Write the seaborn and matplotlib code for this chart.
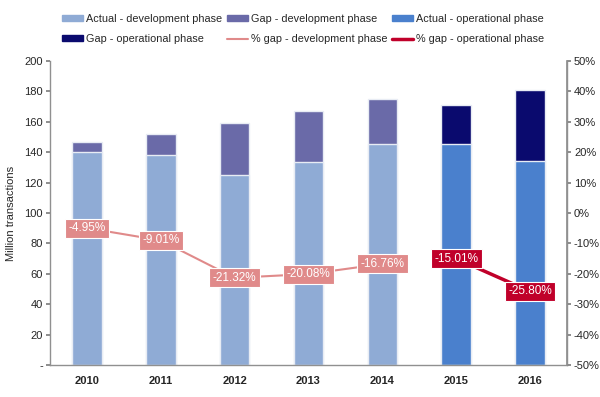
import numpy as np
import pandas as pd
import matplotlib
matplotlib.use("Agg")
import matplotlib.pyplot as plt
import seaborn as sns
from matplotlib.patches import Patch
from matplotlib.lines import Line2D

years = ["2010", "2011", "2012", "2013", "2014", "2015", "2016"]
phase = ["dev", "dev", "dev", "dev", "dev", "op", "op"]
actual = [140, 138, 125, 133.5, 145.5, 145.3, 134.3]
total = [147, 152, 159, 167, 175, 171, 181]
pct_gap = [-4.95, -9.01, -21.32, -20.08, -16.76, -15.01, -25.80]

sns.set_theme(style="white")
plt.rcParams["font.family"] = ["Liberation Sans", "DejaVu Sans"]

C_ACT_DEV = "#8FABD5"
C_GAP_DEV = "#6A6AA8"
C_ACT_OP = "#4A80CD"
C_GAP_OP = "#0A0A6E"
C_PCT_DEV = "#E08A8A"
C_PCT_OP = "#C0002A"

df = pd.DataFrame({"year": years, "phase": phase, "actual": actual,
                   "total": total, "pct": pct_gap})

fig = plt.figure(figsize=(6.0, 3.97), dpi=100)
ax = fig.add_axes([50/600, 1-365/397, 517/600, 304/397])

gap_cols = [C_GAP_DEV if p == "dev" else C_GAP_OP for p in phase]
act_cols = [C_ACT_DEV if p == "dev" else C_ACT_OP for p in phase]
sns.barplot(data=df, x="year", y="total", hue="year", palette=gap_cols,
            legend=False, width=0.4, ax=ax, saturation=1,
            edgecolor="#E8ECF4", linewidth=1.0)
sns.barplot(data=df, x="year", y="actual", hue="year", palette=act_cols,
            legend=False, width=0.4, ax=ax, saturation=1,
            edgecolor="#E8ECF4", linewidth=1.0)

ax.set_ylim(0, 200)
ax.set_xlim(-0.5, len(years) - 0.5)
ax.set_yticks(np.arange(0, 201, 20))
ax.set_yticklabels(["-"] + [str(v) for v in range(20, 201, 20)], fontsize=8)
ax.set_xlabel("")
ax.set_ylabel("Million transactions", fontsize=8, labelpad=6)
ax.set_xticks(np.arange(len(years)))
ax.set_xticklabels(years, fontsize=8, fontweight="bold")
ax.tick_params(axis="x", length=0, pad=8)
ax.set_xticks(np.arange(-0.5, len(years), 1), minor=True)
ax.tick_params(axis="x", which="minor", length=4, color="#808080", direction="out")
ax.tick_params(axis="y", length=3, color="#808080", direction="out", pad=2, left=True)
for s in ["left", "bottom", "right"]:
    ax.spines[s].set_color("#909090")
    ax.spines[s].set_linewidth(1)
ax.spines["top"].set_visible(False)

ax2 = ax.twinx()
xpos = np.arange(len(years))
dev = df["phase"] == "dev"
op = df["phase"] == "op"
sns.lineplot(x=xpos[dev.values], y=df.loc[dev, "pct"].values, ax=ax2,
             color=C_PCT_DEV, linewidth=1.5)
sns.lineplot(x=xpos[op.values], y=df.loc[op, "pct"].values, ax=ax2,
             color=C_PCT_OP, linewidth=2.5)
ax2.set_ylim(-50, 50)
ax2.set_yticks(np.arange(-50, 51, 10))
ax2.set_yticklabels([f"{v}%" for v in range(-50, 51, 10)], fontsize=8)
ax2.tick_params(axis="y", length=3, color="#808080", direction="out", pad=2, right=True)
for s in ["top", "left", "bottom"]:
    ax2.spines[s].set_visible(False)
ax2.spines["right"].set_color("#909090")
ax2.set_xlim(-0.5, len(years) - 0.5)

for i, (p, ph) in enumerate(zip(pct_gap, phase)):
    col = C_PCT_DEV if ph == "dev" else C_PCT_OP
    ax2.text(i, p, f"{p:.2f}%", ha="center", va="center", color="white",
             fontsize=8.5,
             bbox=dict(boxstyle="square,pad=0.3", facecolor=col, edgecolor="white",
                       linewidth=0.8))

handles = [Patch(color=C_ACT_DEV), Patch(color=C_GAP_OP), Patch(color=C_GAP_DEV),
           Line2D([], [], color=C_PCT_DEV, lw=1.5), Patch(color=C_ACT_OP),
           Line2D([], [], color=C_PCT_OP, lw=2.5)]
labels = ["Actual - development phase", "Gap - operational phase",
          "Gap - development phase", "% gap - development phase",
          "Actual - operational phase", "% gap - operational phase"]
fig.legend(handles, labels, loc="upper center", bbox_to_anchor=(0.505, 0.99),
           ncol=3, frameon=False, fontsize=7.8, handlelength=2.0, handleheight=0.45,
           handletextpad=0.25, columnspacing=0.4, labelspacing=0.95)

fig.savefig("out.png", dpi=100)
